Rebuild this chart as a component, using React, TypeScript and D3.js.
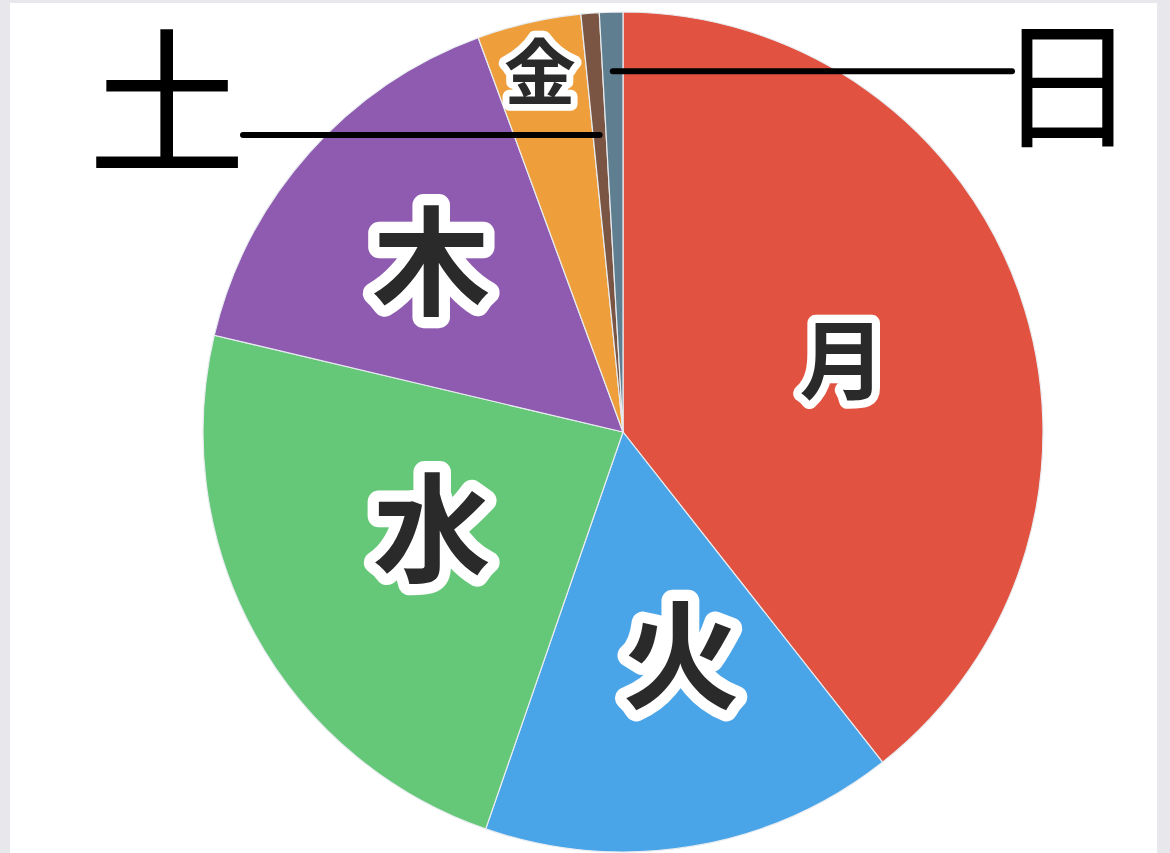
import { useEffect, useRef } from 'react';
import * as d3 from 'd3';

const categories = ['月', '火', '水', '木', '金', '土', '日'];
const values = [39.4, 15.9, 23.4, 15.7, 4.0, 0.7, 0.9];
const colors = ['#e15241', '#4aa4e8', '#65c778', '#8e5bb0', '#ee9f3c', '#7a5543', '#5f7e8f'];

// labels inside slices: radius (fraction of r), angle nudge (deg), font size
const innerLabels = ['月', '火', '水', '木', '金'];
const labelRadius = [0.55, 0.55, 0.51, 0.61, 0.88];
const labelNudge = [1, -5, 2, 0, 0];
const labelSize = [86, 118, 118, 118, 72];

// tiny slices get a leader line out to a big label
const outsideLabels = ['土', '日'];

const W = 1170;
const H = 853;

export default function App() {
  const ref = useRef<SVGSVGElement | null>(null);
  useEffect(() => {
    const svg = d3.select(ref.current!);
    svg.selectAll('*').remove();
    svg.attr('viewBox', `0 0 ${W} ${H}`);

    svg.append('rect').attr('width', W).attr('height', H).attr('fill', '#e8e8ec');
    svg.append('rect').attr('x', 10).attr('y', 3).attr('width', 1147).attr('height', H).attr('fill', '#fff');

    const cx = 623, cy = 432, r = 420;
    const g = svg.append('g').attr('transform', `translate(${cx},${cy})`);

    const data = categories.map((c, i) => ({ c, v: values[i], color: colors[i] }));
    const arcs = d3.pie<{ c: string; v: number; color: string }>().sort(null).value((d) => d.v)(data);
    const arc = d3.arc<d3.PieArcDatum<{ c: string; v: number; color: string }>>().innerRadius(0).outerRadius(r);

    g.selectAll('path.slice').data(arcs).enter().append('path')
      .attr('class', 'slice')
      .attr('d', arc)
      .attr('fill', (d) => d.data.color)
      .attr('stroke', '#e8ecf0').attr('stroke-width', 1.2);

    const font = '"Noto Sans CJK JP", "Noto Sans CJK SC", sans-serif';
    const mid = (d: d3.PieArcDatum<unknown>) => (d.startAngle + d.endAngle) / 2;

    innerLabels.forEach((name, i) => {
      const a = arcs.find((d) => d.data.c === name)!;
      const ang = mid(a) + (labelNudge[i] * Math.PI) / 180;
      const rr = r * labelRadius[i];
      const x = Math.sin(ang) * rr, y = -Math.cos(ang) * rr;
      g.append('text').attr('x', x).attr('y', y).attr('dy', '-0.06em')
        .attr('text-anchor', 'middle').attr('dominant-baseline', 'central')
        .attr('font-family', font).attr('font-weight', 700).attr('font-size', labelSize[i])
        .attr('fill', '#2a2a2a')
        .attr('stroke', '#fff').attr('stroke-width', labelSize[i] * 0.19).attr('stroke-linejoin', 'round')
        .attr('paint-order', 'stroke')
        .text(name);
    });

    // leader lines: 土 goes left, 日 goes right
    const leader = [
      { name: outsideLabels[0], rr: 298, toX: 243 - cx, tx: 167 - cx, ty: 93 - cy, size: 158 },
      { name: outsideLabels[1], rr: 361, toX: 1012 - cx, tx: 1067 - cx, ty: 76 - cy, size: 140 },
    ];
    leader.forEach((l) => {
      const a = arcs.find((d) => d.data.c === l.name)!;
      const ang = mid(a);
      const x = Math.sin(ang) * l.rr, y = -Math.cos(ang) * l.rr;
      g.append('line').attr('x1', x).attr('y1', y).attr('x2', l.toX).attr('y2', y)
        .attr('stroke', '#000').attr('stroke-width', 6).attr('stroke-linecap', 'round');
      g.append('text').attr('x', l.tx).attr('y', l.ty)
        .attr('text-anchor', 'middle').attr('dominant-baseline', 'central')
        .attr('font-family', font).attr('font-weight', 400).attr('font-size', l.size)
        .attr('fill', '#000')
        .text(l.name);
    });
  }, []);
  return (
    <svg ref={ref} width={W} height={H}
      style={{ position: 'fixed', left: 0, top: 0, display: 'block' }} />
  );
}
